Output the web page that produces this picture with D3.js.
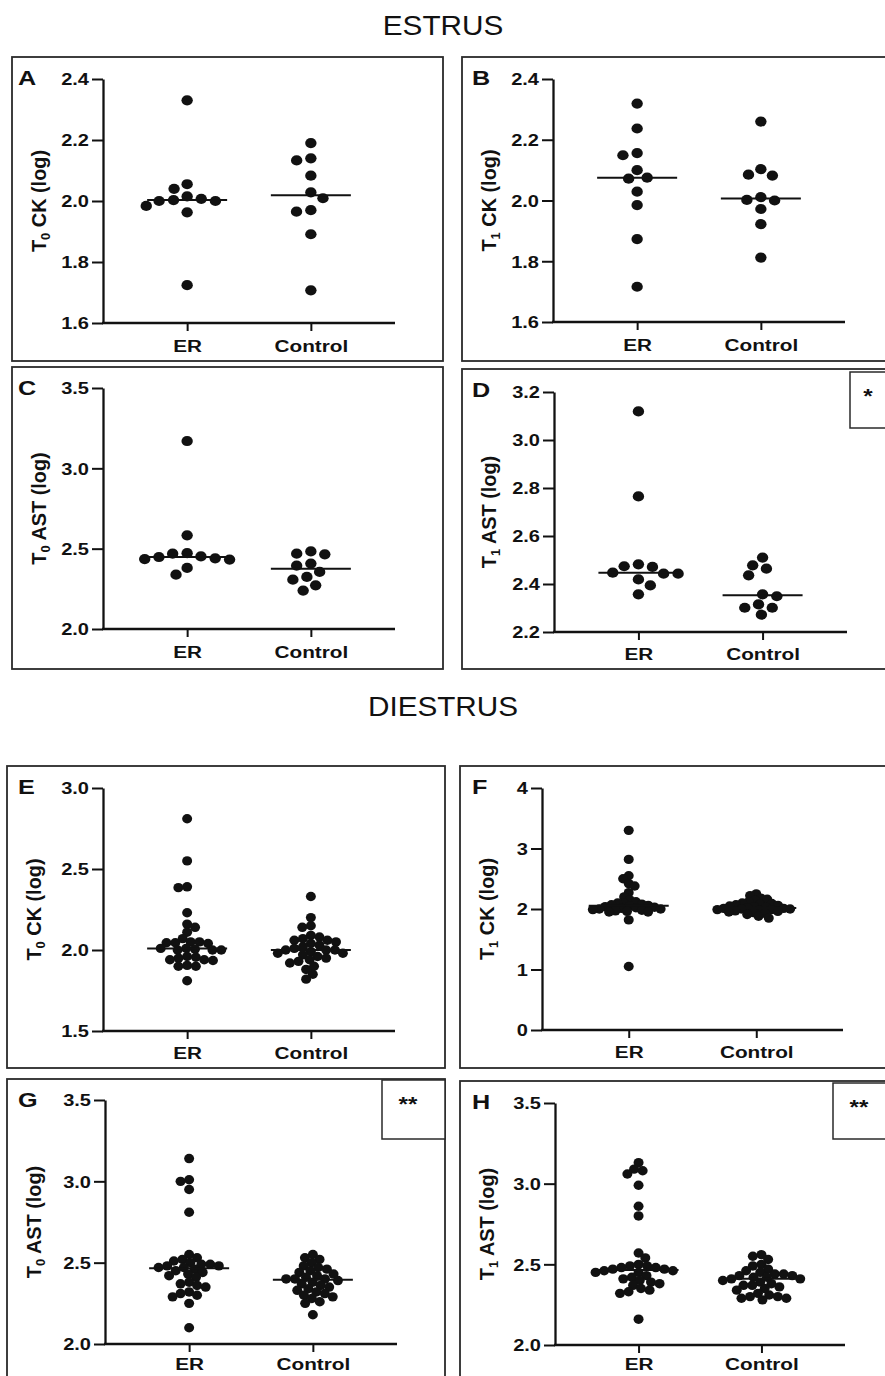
<!DOCTYPE html>
<html>
<head>
<meta charset="utf-8">
<script src="https://cdn.jsdelivr.net/npm/d3@7/dist/d3.min.js"></script>
<style>
  html, body { margin: 0; padding: 0; background: #fff; }
  svg { display: block; }
  text { font-family: "Liberation Sans", Arial, sans-serif; fill: #111; }
</style>
</head>
<body>
<svg id="chart" width="885" height="1376"></svg>
<script>
// ---------------- DATA ----------------
const categories = ["ER", "Control"];
const sectionTitles = ["ESTRUS", "DIESTRUS"];
const panelLetters = ["A", "B", "C", "D", "E", "F", "G", "H"];
const yTitleMain = ["T", "T", "T", "T", "T", "T", "T", "T"];
const yTitleSub = ["0", "1", "0", "1", "0", "1", "0", "1"];
const yTitleRest = [" CK (log)", " CK (log)", " AST (log)", " AST (log)", " CK (log)", " CK (log)", " AST (log)", " AST (log)"];
const significance = ["", "", "", "*", "", "", "**", "**"];

const ticksA = [1.6, 1.8, 2.0, 2.2, 2.4];
const ticksB = [1.6, 1.8, 2.0, 2.2, 2.4];
const ticksC = [2.0, 2.5, 3.0, 3.5];
const ticksD = [2.2, 2.4, 2.6, 2.8, 3.0, 3.2];
const ticksE = [1.5, 2.0, 2.5, 3.0];
const ticksF = [0, 1, 2, 3, 4];
const ticksG = [2.0, 2.5, 3.0, 3.5];
const ticksH = [2.0, 2.5, 3.0, 3.5];

const aER   = [2.33, 2.055, 2.04, 2.015, 2.007, 2.003, 2.0, 2.0, 1.984, 1.963, 1.724];
const aCtrl = [2.19, 2.133, 2.14, 2.083, 2.028, 2.009, 1.965, 1.970, 1.891, 1.707];
const bER   = [2.319, 2.237, 2.156, 2.149, 2.10, 2.072, 2.075, 2.029, 1.985, 1.873, 1.716];
const bCtrl = [2.26, 2.082, 2.085, 2.103, 2.002, 2.0, 2.011, 1.972, 1.922, 1.812];
const cER   = [3.17, 2.583, 2.469, 2.452, 2.435, 2.44, 2.448, 2.432, 2.472, 2.38, 2.338];
const cCtrl = [2.469, 2.483, 2.465, 2.394, 2.407, 2.355, 2.324, 2.307, 2.272, 2.239];
const dER   = [3.119, 2.765, 2.482, 2.443, 2.443, 2.471, 2.419, 2.447, 2.474, 2.394, 2.357];
const dCtrl = [2.357, 2.315, 2.272, 2.436, 2.51, 2.464, 2.478, 2.349, 2.301, 2.301];
const eER   = [2.81, 2.55, 2.39, 2.385, 2.23, 2.16, 2.14, 2.11, 2.07, 2.05, 2.045, 2.04, 2.05, 2.045,
               2.01, 2.0, 2.005, 2.0, 2.01, 2.0, 1.96, 1.94, 1.95, 1.935, 1.955, 1.94, 1.9, 1.905, 1.9, 1.81];
const eCtrl = [2.33, 2.20, 2.15, 2.14, 2.09, 2.08, 2.07, 2.06, 2.06, 2.05, 2.04, 2.03, 2.02, 2.01, 2.0,
               2.0, 2.0, 1.99, 1.98, 1.98, 1.97, 1.96, 1.95, 1.94, 1.93, 1.92, 1.90, 1.88, 1.85, 1.82];
const fER   = [3.30, 2.82, 2.55, 2.50, 2.42, 2.38, 2.27, 2.20, 2.15, 2.12, 2.10, 2.10, 2.08, 2.07, 2.06,
               2.05, 2.04, 2.03, 2.02, 2.01, 2.0, 2.0, 1.99, 1.98, 1.97, 1.96, 1.95, 1.95, 1.82, 1.05];
const fCtrl = [2.25, 2.22, 2.18, 2.16, 2.14, 2.12, 2.10, 2.09, 2.08, 2.07, 2.06, 2.05, 2.04, 2.03, 2.02,
               2.01, 2.01, 2.0, 2.0, 1.99, 1.99, 1.98, 1.97, 1.96, 1.95, 1.94, 1.93, 1.91, 1.88, 1.85];
const gER   = [3.14, 3.01, 3.00, 2.95, 2.81, 2.55, 2.53, 2.52, 2.51, 2.50, 2.49, 2.49, 2.48, 2.48, 2.47, 2.47,
               2.46, 2.45, 2.44, 2.43, 2.42, 2.41, 2.38, 2.37, 2.36, 2.35, 2.32, 2.31, 2.30, 2.29, 2.25, 2.10];
const gCtrl = [2.55, 2.53, 2.52, 2.50, 2.48, 2.47, 2.46, 2.45, 2.44, 2.43, 2.42, 2.41, 2.40, 2.40, 2.40,
               2.39, 2.38, 2.37, 2.36, 2.35, 2.34, 2.33, 2.32, 2.31, 2.30, 2.29, 2.28, 2.26, 2.25, 2.18];
const hER   = [3.13, 3.09, 3.08, 3.06, 2.99, 2.86, 2.80, 2.57, 2.54, 2.50, 2.49, 2.49, 2.48, 2.48, 2.47, 2.47,
               2.46, 2.46, 2.45, 2.45, 2.43, 2.42, 2.41, 2.40, 2.39, 2.38, 2.37, 2.35, 2.34, 2.33, 2.32, 2.16];
const hCtrl = [2.56, 2.55, 2.53, 2.50, 2.49, 2.47, 2.46, 2.45, 2.44, 2.44, 2.43, 2.43, 2.42, 2.42, 2.41,
               2.41, 2.40, 2.39, 2.38, 2.37, 2.37, 2.36, 2.35, 2.34, 2.32, 2.31, 2.30, 2.30, 2.29, 2.29, 2.28];

// ---------------- LAYOUT ----------------
const panels = [
  { ticks: ticksA, fmt: ".1f", series: [aER, aCtrl], box: [12, 57, 443, 361],  x0: 103, x1: 395, yTop: 79,   yBot: 323,  dense: false, lab: 29 },
  { ticks: ticksB, fmt: ".1f", series: [bER, bCtrl], box: [462, 57, 892, 361], x0: 553, x1: 845, yTop: 79,   yBot: 322,  dense: false, lab: 29 },
  { ticks: ticksC, fmt: ".1f", series: [cER, cCtrl], box: [12, 367, 443, 669], x0: 103, x1: 395, yTop: 388,  yBot: 629,  dense: false, lab: 29 },
  { ticks: ticksD, fmt: ".1f", series: [dER, dCtrl], box: [462, 369, 892, 669],x0: 554, x1: 847, yTop: 392,  yBot: 632,  dense: false, lab: 28, star: [850, 372, 892, 428] },
  { ticks: ticksE, fmt: ".1f", series: [eER, eCtrl], box: [7, 766, 445, 1068], x0: 103, x1: 395, yTop: 788,  yBot: 1031, dense: true, lab: 28 },
  { ticks: ticksF, fmt: "d",   series: [fER, fCtrl], box: [460, 766, 892, 1068],x0: 542, x1: 843, yTop: 788,  yBot: 1030, dense: true, lab: 28, packed: true },
  { ticks: ticksG, fmt: ".1f", series: [gER, gCtrl], box: [7, 1079, 445, 1395],x0: 105, x1: 397, yTop: 1100, yBot: 1344, dense: true, lab: 26, star: [382, 1080, 445, 1139] },
  { ticks: ticksH, fmt: ".1f", series: [hER, hCtrl], box: [460, 1081, 892, 1395],x0: 555, x1: 845, yTop: 1103, yBot: 1345, dense: true, lab: 25, star: [833, 1083, 892, 1139] }
];

const svg = d3.select("#chart");
svg.append("rect").attr("width", 885).attr("height", 1376).attr("fill", "#fff");

// section titles
[[443, 35], [443, 716]].forEach((p, i) => {
  svg.append("text")
    .attr("transform", `translate(${p[0]},${p[1]}) scale(1.1,1)`)
    .attr("text-anchor", "middle")
    .attr("font-size", 27)
    .text(sectionTitles[i]);
});

function swarm(vals, y, sx, sy) {
  const pts = vals.map(v => ({ v, y: y(v) })).sort((a, b) => a.y - b.y);
  const placed = [];
  let flip = -1;
  pts.forEach(p => {
    const ivs = [];
    placed.forEach(q => {
      const dy = (q.y - p.y) / sy;
      if (Math.abs(dy) < 1) {
        const w = sx * Math.sqrt(1 - dy * dy);
        ivs.push([q.x - w, q.x + w]);
      }
    });
    const cands = [0];
    ivs.forEach(iv => { cands.push(iv[0], iv[1]); });
    const ok = cands.filter(c => ivs.every(iv => c <= iv[0] + 1e-6 || c >= iv[1] - 1e-6));
    let best = null;
    ok.forEach(c => {
      if (best === null) best = c;
      else if (Math.abs(c) < Math.abs(best) - 1e-6) best = c;
      else if (Math.abs(Math.abs(c) - Math.abs(best)) <= 1e-6 && Math.sign(c) === flip) best = c;
    });
    if (best !== 0) flip = -flip;
    p.x = best;
    placed.push(p);
  });
  return placed;
}

panels.forEach((P, i) => {
  const g = svg.append("g");
  const [bx0, by0, bx1, by1] = P.box;
  g.append("rect")
    .attr("x", bx0).attr("y", by0).attr("width", bx1 - bx0).attr("height", by1 - by0)
    .attr("fill", "none").attr("stroke", "#2a2a2a").attr("stroke-width", 1.8);

  if (P.star) {
    const [sx0, sy0, sx1, sy1] = P.star;
    g.append("rect")
      .attr("x", sx0).attr("y", sy0).attr("width", sx1 - sx0).attr("height", sy1 - sy0)
      .attr("fill", "#fff").attr("stroke", "#2a2a2a").attr("stroke-width", 1.5);
    const cx = significance[i].length === 1 ? sx0 + 18 : sx0 + 26;
    g.append("text")
      .attr("transform", `translate(${cx},${sy0 + 31}) scale(1.15,1)`)
      .attr("text-anchor", "middle").attr("font-weight", "bold").attr("font-size", 21)
      .text(significance[i]);
  }

  const domain = [P.ticks[0], P.ticks[P.ticks.length - 1]];
  const y = d3.scaleLinear().domain(domain).range([P.yBot, P.yTop]);
  const x = d3.scalePoint().domain(categories).range([P.x0, P.x1]).padding(0.68);

  // y axis
  const yAxis = d3.axisLeft(y).tickValues(P.ticks).tickSize(11).tickSizeOuter(0).tickFormat(d3.format(P.fmt));
  const ya = g.append("g").attr("transform", `translate(${P.x0},0)`).call(yAxis);
  ya.select(".domain").attr("stroke", "#111").attr("stroke-width", 2.3);
  ya.selectAll(".tick line").attr("stroke", "#111").attr("stroke-width", 2);
  ya.selectAll(".tick text").each(function () {
    d3.select(this).attr("x", null).attr("dy", null)
      .attr("transform", `translate(-14,5.8) scale(1.25,1)`)
      .attr("font-family", "Liberation Sans, Arial, sans-serif")
      .attr("font-size", 16).attr("font-weight", "bold").attr("fill", "#111");
  });

  // x axis
  const xAxis = d3.axisBottom(x).tickSize(8).tickSizeOuter(0);
  const xa = g.append("g").attr("transform", `translate(0,${P.yBot})`).call(xAxis);
  xa.select(".domain").attr("stroke", "#111").attr("stroke-width", 2.3)
    .attr("d", `M${P.x0 - 1},0H${P.x1}`);
  xa.selectAll(".tick line").attr("stroke", "#111").attr("stroke-width", 2);
  xa.selectAll(".tick text").each(function () {
    d3.select(this).attr("y", null).attr("dy", null)
      .attr("transform", `translate(0,${P.lab}) scale(1.22,1)`)
      .attr("font-family", "Liberation Sans, Arial, sans-serif")
      .attr("font-size", 17).attr("font-weight", "bold").attr("fill", "#111");
  });

  // panel letter
  const lx = bx0 < 200 ? 18 : 472;
  g.append("text")
    .attr("transform", `translate(${lx},${by0 + 28}) scale(1.2,1)`)
    .attr("font-size", 21).attr("font-weight", "bold")
    .text(panelLetters[i]);

  // y title
  const tcx = bx0 + 27, tcy = (P.yTop + P.yBot) / 2;
  const yt = g.append("text")
    .attr("transform", `translate(${tcx},${tcy}) rotate(-90) scale(1.17,1.2)`)
    .attr("text-anchor", "middle")
    .attr("font-size", 17).attr("font-weight", "bold");
  yt.append("tspan").attr("dy", 6).text(yTitleMain[i]);
  yt.append("tspan").attr("font-size", 11).attr("dy", 3).text(yTitleSub[i]);
  yt.append("tspan").attr("dy", -3).text(yTitleRest[i]);

  // dots
  const rx = P.dense ? 5.0 : 5.7, ry = P.dense ? 4.7 : 5.1;
  const sx = P.packed ? 6.5 : (P.dense ? 8.8 : 14.5);
  const sy = P.packed ? 6.0 : (P.dense ? 7.5 : 10.5);
  P.series.forEach((vals, k) => {
    const cx = x(categories[k]);
    const pts = swarm(vals, y, sx, sy);
    g.append("g").selectAll("ellipse").data(pts).join("ellipse")
      .attr("cx", d => cx + d.x).attr("cy", d => d.y)
      .attr("rx", rx).attr("ry", ry).attr("fill", "#111");
    const med = d3.median(vals);
    g.append("line")
      .attr("x1", cx - 40).attr("x2", cx + 40)
      .attr("y1", y(med)).attr("y2", y(med))
      .attr("stroke", "#111").attr("stroke-width", 2);
  });
});
</script>
</body>
</html>
